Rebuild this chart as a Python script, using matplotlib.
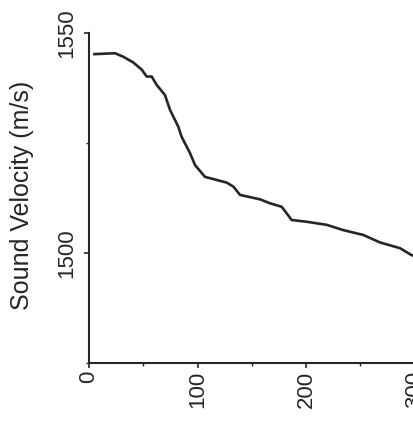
import numpy as np
import matplotlib
matplotlib.use("Agg")
import matplotlib.pyplot as plt
from matplotlib.ticker import MultipleLocator

# ===================== DATA =====================
depth = [5, 24, 31.6, 40.8, 48.5, 53.2, 57.8, 62.4, 70, 74.7, 79.3, 82.3, 85.4,
         93.1, 97.7, 106.9, 114.6, 126.9, 133, 139.2, 157.6, 166.8, 177.6,
         186.8, 200.6, 219.1, 234.4, 252.8, 268.2, 286.6, 297.4, 310]
velocity = [1545.2, 1545.4, 1544.6, 1543.3, 1541.7, 1540.1, 1540.1, 1538.2,
            1535.9, 1532.5, 1530.2, 1528.7, 1526.4, 1522.7, 1520.0, 1517.3,
            1516.8, 1516.0, 1515.1, 1513.2, 1512.2, 1511.3, 1510.5, 1507.5,
            1507.1, 1506.4, 1505.2, 1504.1, 1502.4, 1501.1, 1499.5, 1498.5]
x_ticks = [0, 100, 200, 300]
y_ticks = [1500, 1550]
y_label = "Sound Velocity (m/s)"

# ===================== PLOT =====================
plt.rcParams['font.family'] = ['Liberation Sans', 'DejaVu Sans']
ink = '#262626'

W, H = 413, 440
fig = plt.figure(figsize=(W / 100, H / 100), dpi=100)
fig.patch.set_facecolor('white')

# axes runs past the right edge (the original is cropped there)
x0, y_top, y_bot = 89, 33, 363
ax = fig.add_axes([x0 / W, 1 - y_bot / H, 434 / W, (y_bot - y_top) / H])
ax.plot(depth, velocity, color=ink, lw=1.9, solid_joinstyle='round')

ax.set_xlim(0, 400)
ax.set_ylim(1475, 1550)
ax.set_xticks(x_ticks)
ax.set_yticks(y_ticks)
ax.xaxis.set_minor_locator(MultipleLocator(50))
ax.yaxis.set_minor_locator(MultipleLocator(25))

for side in ['top', 'right']:
    ax.spines[side].set_visible(False)
for side in ['left', 'bottom']:
    ax.spines[side].set_linewidth(1.5)
    ax.spines[side].set_color(ink)

ax.tick_params(which='major', length=3.5, width=1.2, color=ink, labelsize=16,
               labelcolor=ink)
ax.tick_params(which='minor', length=2.5, width=1.0, color=ink)
ax.tick_params(axis='x', pad=2)
ax.tick_params(axis='y', pad=5)
for lab in ax.get_xticklabels():
    lab.set_rotation(90)
for lab in ax.get_yticklabels():
    lab.set_rotation(90)
    lab.set_va('center')

ax.set_ylabel(y_label, fontsize=18, color=ink, va='center')
ax.yaxis.set_label_coords((22 - x0) / 434, (y_bot - 195) / (y_bot - y_top))

fig.savefig("out.png", dpi=100, facecolor='white')
